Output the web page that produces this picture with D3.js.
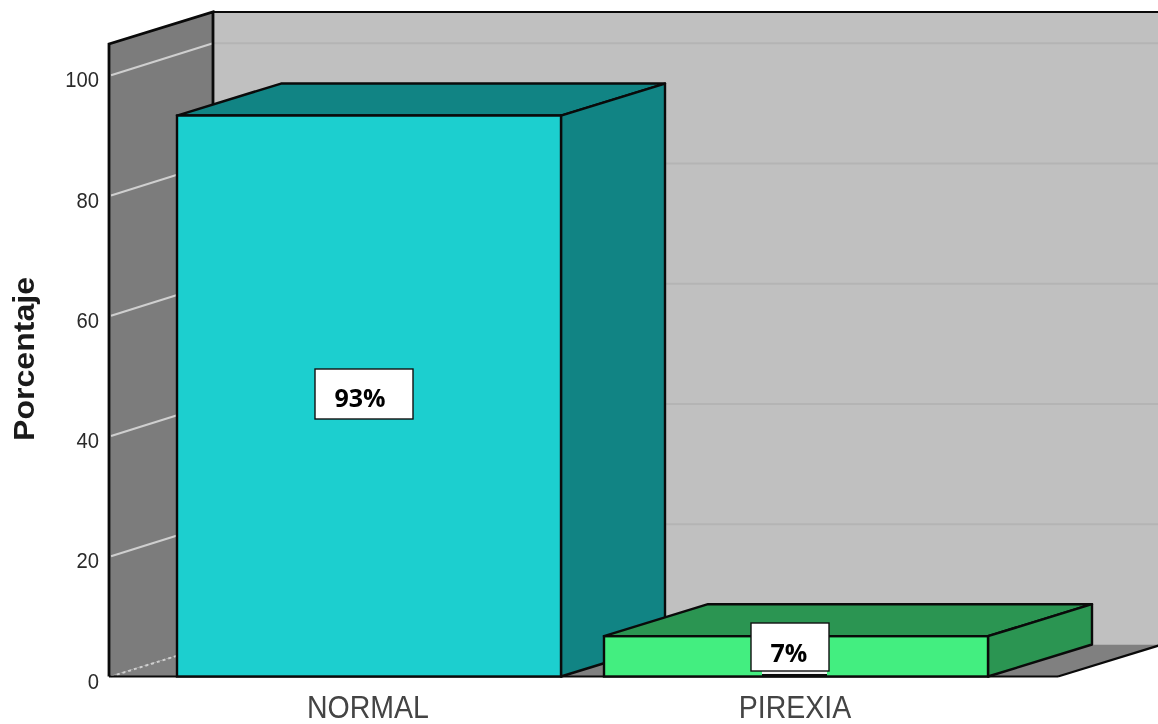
<!DOCTYPE html>
<html><head><meta charset="utf-8">
<script src="https://cdn.jsdelivr.net/npm/d3@7"></script>
<style>html,body{margin:0;padding:0;background:#fff;overflow:hidden}svg{display:block;filter:blur(0.45px)}</style>
</head><body><div id="c"></div>
<script>
const categories = ["NORMAL", "PIREXIA"];
const values = [93.3, 6.7];
const labels = ["93%", "7%"];
const yTicks = [0, 20, 40, 60, 80, 100];
const yTitle = "Porcentaje";
const frontColors = ["#1ccfcf", "#43ee80"];
const sideColors = ["#118484", "#2b9552"];

const W = 1158, H = 724;
const dx = 104, dy = -32;
const x0 = 109, x1 = 1058, yBase = 676.5;
const y = d3.scaleLinear().domain([0, 105.2]).range([yBase, 44]);
const x = d3.scaleBand().domain(categories).range([155.5, 1009.5]).paddingInner(43 / 427).paddingOuter(43 / 427 / 2);
const svg = d3.select("#c").append("svg").attr("width", W).attr("height", H);
const line = d3.line();
const poly = p => line(p) + "Z";
const yTop = y.range()[1];
const black = "#0a0a0a";

// back wall
svg.append("path").attr("d", poly([[x0 + dx, yTop + dy], [W + 4, yTop + dy], [W + 4, yBase + dy], [x0 + dx, yBase + dy]])).attr("fill", "#c0c0c0");
svg.append("line").attr("x1", x0 + dx).attr("x2", W + 4).attr("y1", yTop + dy).attr("y2", yTop + dy).attr("stroke", black).attr("stroke-width", 2);
// floor
svg.append("path").attr("d", poly([[x0, yBase], [x1, yBase], [x1 + dx, yBase + dy], [x0 + dx, yBase + dy]])).attr("fill", "#808080");
svg.append("line").attr("x1", x1).attr("y1", yBase).attr("x2", x1 + dx).attr("y2", yBase + dy).attr("stroke", black).attr("stroke-width", 2.2);
// left wall
svg.append("path").attr("d", poly([[x0, yTop], [x0 + dx, yTop + dy], [x0 + dx, yBase + dy], [x0, yBase]])).attr("fill", "#7c7c7c");

// gridlines
svg.append("g").selectAll("line").data(yTicks.slice(1)).join("line")
  .attr("x1", x0 + dx + 1).attr("x2", W + 4).attr("y1", d => y(d) + dy).attr("y2", d => y(d) + dy)
  .attr("stroke", "#b4b4b4").attr("stroke-width", 2);
svg.append("g").selectAll("line").data(yTicks).join("line")
  .attr("x1", x0 + 2).attr("x2", x0 + dx).attr("y1", d => y(d)).attr("y2", d => y(d) + dy)
  .attr("stroke", "#cfcfcf").attr("stroke-width", 2)
  .attr("stroke-dasharray", d => d === 0 ? "3 3" : null);

// wall edges
svg.append("path").attr("d", line([[x0, yBase], [x0, yTop], [x0 + dx, yTop + dy], [x0 + dx, yBase + dy]]))
  .attr("fill", "none").attr("stroke", black).attr("stroke-width", 2.8);
svg.append("line").attr("x1", x0).attr("x2", x1).attr("y1", yBase).attr("y2", yBase).attr("stroke", black).attr("stroke-width", 2);

// bars
const bars = svg.append("g").selectAll("g").data(categories).join("g");
bars.append("path").attr("d", (c, i) => { const a = x(c), b = a + x.bandwidth(), t = y(values[i]);
  return poly([[a, t], [b, t], [b + dx, t + dy], [a + dx, t + dy]]); })
  .attr("fill", (c, i) => sideColors[i]).attr("stroke", black).attr("stroke-width", 2.4).attr("stroke-linejoin", "round");
bars.append("path").attr("d", (c, i) => { const b = x(c) + x.bandwidth(), t = y(values[i]);
  return poly([[b, t], [b + dx, t + dy], [b + dx, yBase + dy], [b, yBase]]); })
  .attr("fill", (c, i) => sideColors[i]).attr("stroke", black).attr("stroke-width", 2.4).attr("stroke-linejoin", "round");
bars.append("rect").attr("x", c => x(c)).attr("y", (c, i) => y(values[i]))
  .attr("width", x.bandwidth()).attr("height", (c, i) => yBase - y(values[i]))
  .attr("fill", (c, i) => frontColors[i]).attr("stroke", black).attr("stroke-width", 2.4);

// tick labels
svg.append("g").selectAll("text").data(yTicks).join("text")
  .attr("transform", d => `translate(99,${y(d) + 12}) scale(0.92,1)`).attr("text-anchor", "end")
  .attr("font-family", "'Liberation Sans',Arial,sans-serif").attr("font-size", 22).attr("fill", "#2a2a2a")
  .text(d => d);

// category labels
svg.append("g").selectAll("text").data(categories).join("text")
  .attr("transform", c => `translate(${x(c) + x.bandwidth() / 2 - 1},717.5) scale(0.92,1)`)
  .attr("text-anchor", "middle").attr("font-family", "'Liberation Sans',Arial,sans-serif")
  .attr("font-size", 31).attr("fill", "#444").text(c => c);

// axis title
svg.append("text").attr("transform", "translate(34,359) rotate(-90)").attr("text-anchor", "middle")
  .attr("font-family", "'Liberation Sans',Arial,sans-serif").attr("font-weight", 700)
  .attr("font-size", 29).attr("fill", "#1a1a1a").attr("textLength", 164).attr("lengthAdjust", "spacingAndGlyphs").text(yTitle);

// value labels
const boxW = [98, 78], boxH = [50, 48];
const boxCx = [364, 790], boxCy = [394, 647];
const textCx = [360, 789], textBase = [407, 662];
// sliver showing under the 7% box
svg.append("rect").attr("x", 762).attr("y", 671).attr("width", 65).attr("height", 3).attr("fill", "#f2f2f2");
svg.append("rect").attr("x", 762).attr("y", 674).attr("width", 65).attr("height", 3).attr("fill", black);
const lab = svg.append("g").selectAll("g").data(labels).join("g");
lab.append("rect").attr("x", (d, i) => boxCx[i] - boxW[i] / 2).attr("y", (d, i) => boxCy[i] - boxH[i] / 2)
  .attr("width", (d, i) => boxW[i]).attr("height", (d, i) => boxH[i])
  .attr("fill", "#fff").attr("stroke", "#111").attr("stroke-width", 1.4);
lab.append("text").attr("x", (d, i) => textCx[i]).attr("y", (d, i) => textBase[i])
  .attr("text-anchor", "middle").attr("font-family", "'Open Sans',Lato,sans-serif").attr("font-weight", 700)
  .attr("font-size", 25).attr("fill", "#000").text(d => d);
</script></body></html>
